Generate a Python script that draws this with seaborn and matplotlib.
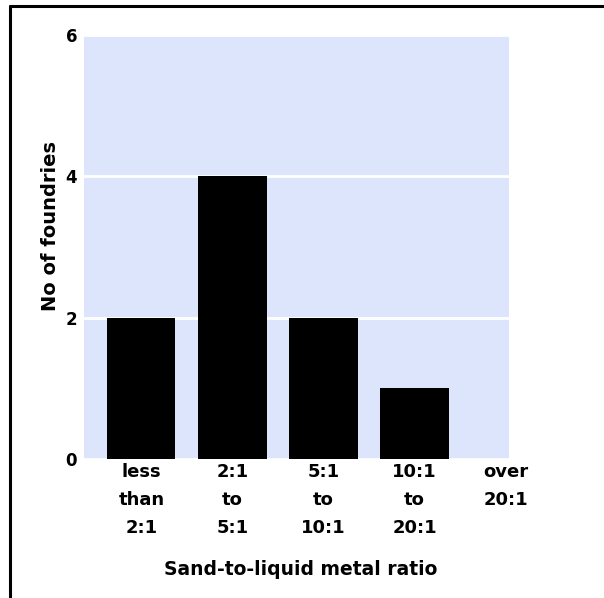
import matplotlib
matplotlib.use("Agg")
import matplotlib.pyplot as plt
from matplotlib.lines import Line2D
import seaborn as sns

# data
categories = ["less\nthan\n2:1", "2:1\nto\n5:1", "5:1\nto\n10:1", "10:1\nto\n20:1", "over\n20:1"]
foundries = [2, 4, 2, 1, 0]
yticks = [0, 2, 4, 6]

sns.set_theme(style="white")
plt.rcParams['font.family'] = ['DejaVu Sans']
plt.rcParams['text.color'] = 'black'
plt.rcParams['axes.labelcolor'] = 'black'
plt.rcParams['xtick.color'] = 'black'
plt.rcParams['ytick.color'] = 'black'

fig = plt.figure(figsize=(6.04, 5.98), dpi=100)
ax = fig.add_axes([0.139, 0.2324, 0.704, 0.709])
ax.set_facecolor('#dde5fd')

sns.barplot(x=categories, y=foundries, color='black', width=0.75,
            saturation=1, linewidth=0, ax=ax, zorder=3)

ax.set_ylim(0, 6)
ax.set_xlim(-0.63, 4.04)
ax.set_yticks(yticks)
ax.set_yticklabels([str(t) for t in yticks], fontsize=12, fontweight='bold')
ax.yaxis.grid(True, color='white', linewidth=2, zorder=1)
ax.set_axisbelow(True)
ax.tick_params(axis='both', length=0)
ax.tick_params(axis='y', pad=5)
ax.tick_params(axis='x', pad=3)
for lbl in ax.get_xticklabels():
    lbl.set_fontsize(13)
    lbl.set_fontweight('bold')
    lbl.set_linespacing(1.72)
for s in ax.spines.values():
    s.set_visible(False)

ax.set_xlabel('Sand-to-liquid metal ratio', fontsize=13.5, fontweight='bold')
ax.xaxis.set_label_coords(0.51, -0.238)
ax.set_ylabel('No of foundries', fontsize=14, fontweight='bold')
ax.yaxis.set_label_coords(-0.056, 0.55)

# screenshot-style frame (top and left edges)
fig.add_artist(Line2D([10 / 604, 1.0], [1 - 6 / 598, 1 - 6 / 598],
                      color='black', linewidth=2.2, transform=fig.transFigure))
fig.add_artist(Line2D([10 / 604, 10 / 604], [0.0, 1 - 6 / 598],
                      color='black', linewidth=2.2, transform=fig.transFigure))

fig.savefig('out.png', dpi=100, facecolor='white')
